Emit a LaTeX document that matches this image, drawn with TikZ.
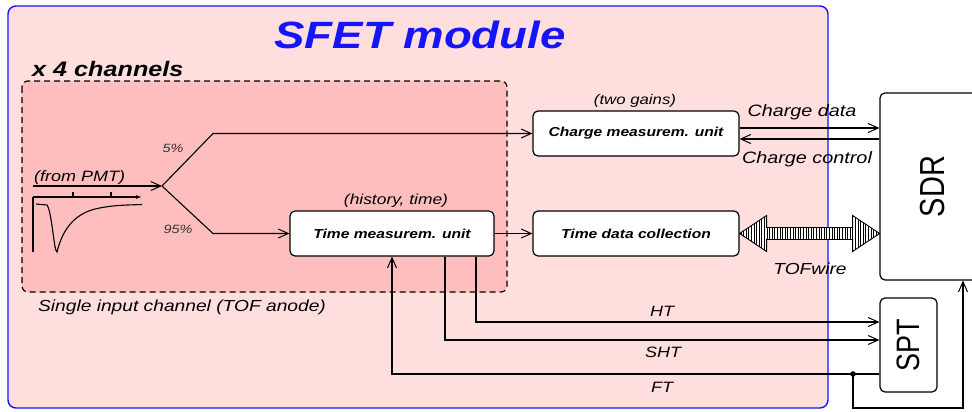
\documentclass[tikz,border=0pt]{standalone}
\usepackage{fontspec}
\setmainfont{Liberation Sans}[FakeStretch=1.2]
\newfontfamily\plainsans{Liberation Sans}
\usetikzlibrary{arrows.meta,patterns.meta}
\definecolor{outerpink}{RGB}{255,222,222}
\definecolor{innerpink}{RGB}{255,190,190}
\definecolor{sfetblue}{RGB}{20,20,255}
\begin{document}
\begin{tikzpicture}[x=1pt,y=-1pt,
  box/.style={draw, line width=1.2pt, rounded corners=5pt, fill=white, inner sep=0pt,
    font=\bfseries\itshape\fontsize{13}{15}\selectfont},
  conn/.style={line width=1.1pt},
  arr/.style={conn, -{Straight Barb[length=10pt,width=9pt,line width=1pt]}},
  lbl/.style={inner sep=0pt, font=\itshape\fontsize{15}{17}\selectfont},
  bigtxt/.style={font=\plainsans\fontsize{29}{30}\selectfont}
]
\clip (0,0) rectangle (972,412);
% SFET module frame
\draw[sfetblue, fill=outerpink, line width=1.4pt, rounded corners=8pt] (8,6) rectangle (828,408);
\node[text=sfetblue, inner sep=0pt, font=\bfseries\itshape\fontsize{38}{40}\selectfont] (title) at (420,35) {SFET module};
\node[anchor=base west, inner sep=0pt, font=\bfseries\itshape\fontsize{21}{23}\selectfont] (chan) at (32,77) {x 4 channels};
% single channel dashed frame
\draw[dash pattern=on 6pt off 4pt, line width=1.2pt, fill=innerpink, rounded corners=6pt] (22,81) rectangle (507,292);
\node[lbl, anchor=base, font=\itshape\fontsize{16}{18}\selectfont] (single) at (182,311) {Single input channel (TOF anode)};

% blocks
\node[box, minimum width=204, minimum height=45] (tm) at (392,233.5) {Time measurem. unit};
\node[box, minimum width=206, minimum height=45] (chg) at (636,133.5) {Charge measurem. unit};
\node[box, minimum width=206, minimum height=45] (tdc) at (636,233.5) {Time data collection};
\node[box, bigtxt, minimum width=105, minimum height=187] (sdr) at (932.5,186.5) {\rotatebox{90}{\scalebox{1}[1.2]{SDR}}};
\node[box, font=\plainsans\fontsize{27}{28}\selectfont, minimum width=57, minimum height=94] (spt) at (908.5,345) {\rotatebox{90}{\scalebox{1}[1.2]{SPT}}};

% labels
\node[lbl, anchor=base, font=\itshape\fontsize{14}{16}\selectfont] (twogains) at (635,104) {(two gains)};
\node[lbl, anchor=base, font=\itshape\fontsize{14.5}{16}\selectfont] (hist) at (396,204) {(history, time)};
\node[lbl, anchor=base, font=\itshape\fontsize{16.5}{18}\selectfont] (cdata) at (802,116) {Charge data};
\node[lbl, anchor=base, font=\itshape\fontsize{16.5}{18}\selectfont] (cctrl) at (807,163) {Charge control};
\node[lbl, anchor=base, font=\itshape\fontsize{16}{18}\selectfont] (tofw) at (810,274) {TOFwire};
\node[lbl, anchor=base] (htl) at (662,316) {HT};
\node[lbl, anchor=base] (shtl) at (663,357) {SHT};
\node[lbl, anchor=base] (ftl) at (662,392) {FT};
\node[lbl, anchor=base west, font=\itshape\fontsize{15}{17}\selectfont] (pmtl) at (34,181) {(from PMT)};
\node[lbl, anchor=base, text=black!80, font=\itshape\fontsize{12}{14}\selectfont] (p5) at (173,152) {5\%};
\node[lbl, anchor=base, text=black!80, font=\itshape\fontsize{12}{14}\selectfont] (p95) at (178,233) {95\%};

% input and splitter
\coordinate (pmt) at (33,186);
\coordinate (sp) at (162,186);
\draw[arr] (pmt) -- (sp);
\draw[arr] (sp) -- (213,133.5) -- (chg.west);
\draw[arr] (sp) -- (213,233.5) -- (tm.west);

% pulse sketch
\draw[conn] (33,252) -- (33,197);
\draw[conn, -{Latex[length=6pt,width=4pt]}] (33,197) -- (142,197);
\draw[conn] (73,197) -- (73,192) (111,197) -- (111,192);
\draw[conn] (36,204) -- (47,205) .. controls (52,212) and (54,252) .. (57,252)
  .. controls (62,232) and (72,215) .. (95,209) .. controls (112,205) and (128,205) .. (142,204.5);

% data paths
\draw[arr] (tm.east) -- (tdc.west);
\draw[arr] (chg.east |- 0,128) -- (sdr.west |- 0,128);
\draw[arr] (sdr.west |- 0,139) -- (chg.east |- 0,139);

% TOFwire
\path[preaction={fill=white}, pattern={Lines[angle=90,distance=2.6pt,line width=0.9pt]}, draw, line width=0.9pt]
  (tdc.east) -- ++(27,-18) -- ++(0,12) -- ++(86,0) -- ++(0,-12) -- ++(27,18)
  -- ++(-27,18) -- ++(0,-12) -- ++(-86,0) -- ++(0,12) -- cycle;

% trigger lines
\draw[arr] (tm.south -| 476,0) -- (476,322) -- (spt.west |- 0,322);
\draw[arr] (tm.south -| 445,0) -- (445,340) -- (spt.west |- 0,340);
\coordinate (ftdot) at (853,374);
\draw[arr] (spt.west |- ftdot) -- (392,374) -- (tm.south -| 392,0);
\fill (ftdot) circle (2.8pt);
\draw[arr] (ftdot) -- (853,408) -- (963,408) -- (sdr.south -| 963,0);
\end{tikzpicture}
\end{document}
